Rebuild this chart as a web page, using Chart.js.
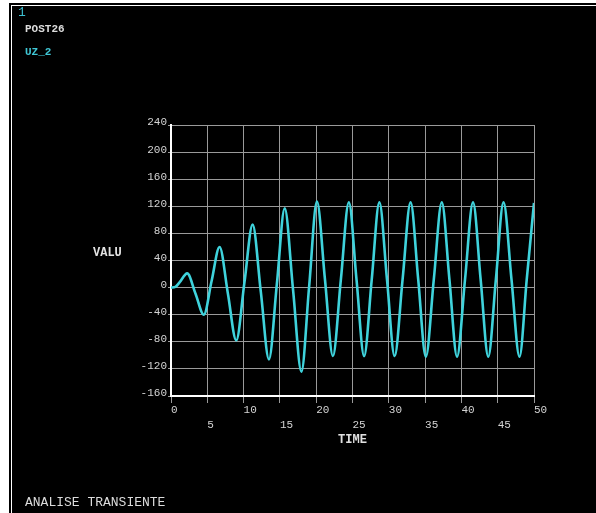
<!DOCTYPE html>
<html>
<head>
<meta charset="utf-8">
<script src="https://cdn.jsdelivr.net/npm/chart.js@4/dist/chart.umd.min.js"></script>
<style>
  html, body { margin: 0; padding: 0; background: #fff; width: 596px; height: 513px; overflow: hidden; }
  #frame { position: absolute; left: 9px; top: 3px; right: 0; bottom: 0; background: #000; }
  #inner { position: absolute; left: 11px; top: 5px; right: 0; bottom: 0; border-left: 1px solid #fff; border-top: 1px solid #fff; background: #000; }
  canvas { position: absolute; left: 0; top: 0; }
  .t { position: absolute; font-family: "Liberation Mono", "DejaVu Sans Mono", monospace; white-space: pre; }
</style>
</head>
<body>
<div id="frame"></div>
<div id="inner"></div>
<canvas id="c" width="596" height="513"></canvas>
<div class="t" style="left:18px;top:6px;font-size:13px;line-height:14px;color:#3cbfd0;">1</div>
<div class="t" style="left:25px;top:23px;font-size:11px;line-height:12px;color:#dcdcdc;font-weight:bold;">POST26</div>
<div class="t" style="left:25px;top:46px;font-size:11px;line-height:12px;color:#3fc6d4;font-weight:bold;">UZ_2</div>
<div class="t" style="left:93px;top:247px;font-size:12px;line-height:13px;color:#e2e2e2;font-weight:bold;">VALU</div>
<div class="t" style="left:25px;top:496px;font-size:13px;line-height:14px;color:#dcdcdc;">ANALISE TRANSIENTE</div>
<script>
// Displacement UZ at node 2 versus time (transient run, POST26 time-history)
const timeSec = [
  0, 0.6, 1.2, 2.23, 3.38, 4.52, 5.6, 6.69, 7.84, 8.99,
  10.12, 11.24, 12.37, 13.49, 14.58, 15.66, 16.81, 17.96, 19.03, 20.1,
  21.2, 22.3, 23.4, 24.5, 25.55, 26.6, 27.65, 28.7, 29.75, 30.8,
  31.9, 33.0, 34.05, 35.1, 36.2, 37.3, 38.35, 39.4, 40.5, 41.6,
  42.65, 43.7, 44.75, 45.8, 46.9, 48.0, 49.0, 50.0
];
const uz2 = [
  0, 1, 8, 21, -9, -40, 10, 60, -9, -78,
  8, 93, -6, -106, 5, 117, -3, -124, 2, 127,
  13, -101, 12, 126, 12, -101, 12, 126, 12, -101,
  12, 126, 12, -102, 12, 126, 12, -102, 12, 126,
  12, -102, 12, 126, 12, -102, 12, 125
];
const xTickLabels = ['0', '5', '10', '15', '20', '25', '30', '35', '40', '45', '50'];
const yTickLabels = ['-160', '-120', '-80', '-40', '0', '40', '80', '120', '160', '200', '240'];

const mono = 'Liberation Mono';
const points = timeSec.map((t, i) => ({ x: t, y: uz2[i] }));

new Chart(document.getElementById('c'), {
  type: 'line',
  data: {
    datasets: [{
      data: points,
      borderColor: '#3fd3dc',
      borderWidth: 2.6,
      pointRadius: 0,
      cubicInterpolationMode: 'monotone',
      fill: false
    }]
  },
  options: {
    responsive: false,
    animation: false,
    devicePixelRatio: 1,
    layout: { padding: { left: 100, right: 62, top: 125, bottom: 66 } },
    plugins: { legend: { display: false }, tooltip: { enabled: false } },
    scales: {
      x: {
        type: 'linear',
        min: 0,
        max: 50,
        afterFit(scale) { scale.height = 51; },
        ticks: {
          stepSize: 5,
          autoSkip: false,
          maxRotation: 0,
          align: 'start',
          padding: 0,
          color: '#d4d4d4',
          font: { family: mono, size: 11, lineHeight: 1.32 },
          // even ticks on the first row, odd ticks on the second
          callback: (v, i) => (i % 2 === 0 ? [xTickLabels[i]] : ['', xTickLabels[i]])
        },
        grid: { color: '#9a9a9a', lineWidth: 1, tickLength: 7 },
        border: { color: '#ffffff', width: 2 },
        title: { display: true, text: 'TIME', color: '#e0e0e0', padding: 0, font: { family: mono, size: 12, weight: 'bold' } }
      },
      y: {
        min: -160,
        max: 240,
        afterFit(scale) { scale.width = 71; },
        ticks: {
          stepSize: 40,
          padding: 1,
          labelOffset: -2.5,
          color: '#d4d4d4',
          font: { family: mono, size: 11 },
          callback: (v, i) => yTickLabels[i]
        },
        grid: { color: '#9a9a9a', lineWidth: 1, tickLength: 3 },
        border: { color: '#ffffff', width: 2 }
      }
    }
  }
});
</script>
</body>
</html>
